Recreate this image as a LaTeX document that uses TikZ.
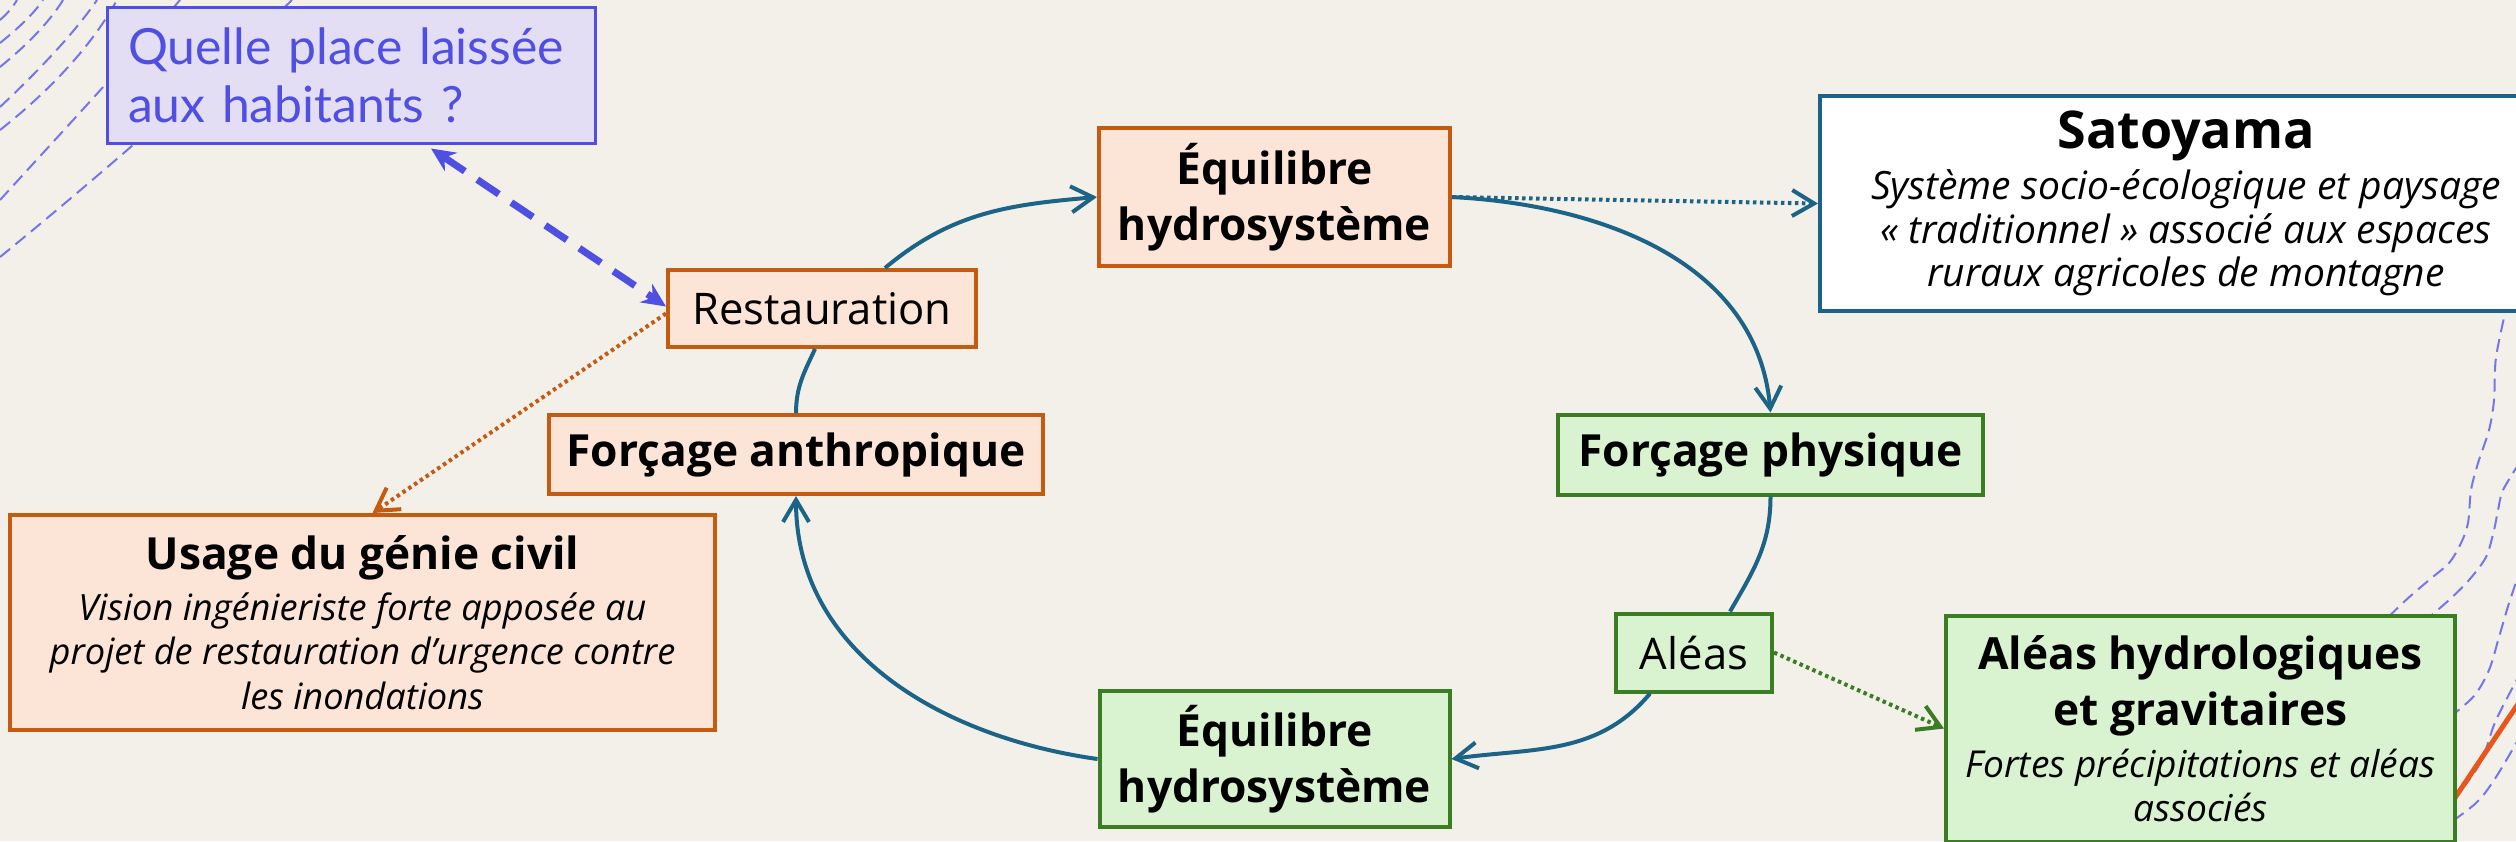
\documentclass[tikz,border=0pt]{standalone}
\usepackage{fontspec}
\setmainfont{Open Sans}
\newfontfamily\questfont{Lato}
\usetikzlibrary{arrows.meta,positioning}

\definecolor{fond}{HTML}{F3F0E9}
\definecolor{peche}{HTML}{FCE4D6}
\definecolor{brique}{HTML}{C55A11}
\definecolor{menthe}{HTML}{D9F2D0}
\definecolor{foret}{HTML}{3A7D22}
\definecolor{petrole}{HTML}{1B6387}
\definecolor{lavande}{HTML}{E3DEF4}
\definecolor{indigo}{HTML}{4F4FE3}
\definecolor{contourbleu}{HTML}{7676EA}
\definecolor{vermillon}{HTML}{E8561E}

\newcommand\titrefont{\fontsize{12.6}{15.9}\selectfont\bfseries\upshape}
\newcommand\grandtitre{\fontsize{14.8}{17}\selectfont\bfseries\upshape}

\tikzset{
  boite/.style={line width=0.4mm, inner sep=0pt, align=center},
  anthropbox/.style={boite, draw=brique, fill=peche},
  physbox/.style={boite, draw=foret, fill=menthe},
  satobox/.style={boite, draw=petrole, fill=white},
  questbox/.style={boite, draw=indigo, fill=lavande, line width=0.3mm, align=left, text=indigo,
    font=\questfont\fontsize{14.2}{16.5}\selectfont},
  titre/.style={font=\titrefont},
  libre/.style={font=\fontsize{12.4}{15}\selectfont},
  glose/.style={font=\fontsize{#1}{12.6}\selectfont\itshape},
  glose/.default=10.3,
  satoglose/.style={font=\fontsize{11.1}{12.4}\selectfont\itshape},
  boucle/.style={draw=petrole, line width=0.4mm},
  bouclearrow/.style={boucle, ->},
  lienpointe/.style={line width=0.4mm, dash pattern=on 0.35mm off 0.35mm, ->},
  lienquestion/.style={draw=indigo, line width=0.7mm, dash pattern=on 2.6mm off 1.5mm,
    {Stealth[length=2.4mm,width=2.2mm]}-{Stealth[length=2.4mm,width=2.2mm]}},
  contour/.style={draw=contourbleu, line width=0.2mm, dash pattern=on 1.3mm off 0.7mm},
}

\begin{document}
\begin{tikzpicture}[x=0.1mm, y=-0.1mm, >={Straight Barb[length=2.2mm,width=2.6mm]}]

    \useasboundingbox (0,0) rectangle (2516,841);
    \clip (0,0) rectangle (2516,841);
    \fill[fond] (0,0) rectangle (2516,841);

    % courbes de niveau
    \draw[contour] (0,20) .. controls (7,14) and (13,7) .. (17,0);
    \draw[contour] (0,43) .. controls (20,27) and (35,12) .. (43,0);
    \draw[contour] (0,67) .. controls (33,40) and (52,18) .. (63,0);
    \draw[contour] (0,107) .. controls (50,60) and (80,25) .. (97,0);
    \draw[contour] (0,130) .. controls (57,85) and (95,40) .. (117,0);
    \draw[contour] (0,200) .. controls (50,145) and (120,70) .. (180,0);
    \draw[contour] (0,257) .. controls (70,200) and (200,90) .. (292,0);
    \draw[contour] plot[smooth] coordinates {(2508,300) (2496,357) (2494,400) (2489,430) (2478,463) (2471,490) (2468,523) (2461,543) (2449,563) (2429,580) (2406,600) (2380,625)};
    \draw[contour] plot[smooth] coordinates {(2520,462) (2503,490) (2498,510) (2494,530) (2486,557) (2469,580) (2449,600) (2420,625)};
    \draw[contour] plot[smooth] coordinates {(2522,565) (2509,603) (2499,637) (2489,670) (2473,697) (2440,725)};
    \draw[contour] plot[smooth] coordinates {(2522,670) (2496,720) (2483,757) (2469,780) (2440,815)};
    \draw[contour] plot[smooth] coordinates {(2522,733) (2496,777) (2476,803) (2440,830)};
    \draw[vermillon, line width=0.5mm] (2530,686) -- (2440,820);

    \node[anthropbox, titre, minimum width=3.51cm, minimum height=1.38cm] (eqtop) at (1274.5,197) {Équilibre\\hydrosystème};
    \node[physbox, titre, minimum width=3.5cm, minimum height=1.36cm, below of=eqtop, yshift=-4.62cm] (eqbot) {Équilibre\\hydrosystème};
    \node[anthropbox, libre, minimum width=3.08cm, minimum height=0.77cm, left of=eqtop, xshift=-3.525cm, yshift=-1.115cm] (restau) {Restauration};
    \node[anthropbox, titre, minimum width=4.94cm, minimum height=0.79cm, below of=restau, xshift=-0.26cm, yshift=-0.46cm] (anthro) {Forçage anthropique};
    \node[physbox, titre, minimum width=4.25cm, minimum height=0.8cm, right of=anthro, xshift=8.745cm] (phys) {Forçage physique};
    \node[physbox, libre, minimum width=1.56cm, minimum height=0.78cm, below of=phys, xshift=-0.765cm, yshift=-0.98cm] (aleas) {Aléas};

    \node[satobox, satoglose, minimum width=7.32cm, minimum height=2.15cm, right of=eqtop, xshift=8.115cm, yshift=-0.065cm] (sato)
      {{\grandtitre Satoyama}\\[2.1pt] Système socio-écologique et paysage\\ « traditionnel » associé aux espaces\\ ruraux agricoles de montagne};
    \node[anthropbox, glose, minimum width=7.05cm, minimum height=2.15cm, left of=restau, xshift=-3.595cm, yshift=-3.14cm] (usage)
      {{\titrefont Usage du génie civil}\\[2pt] Vision ingénieriste forte apposée au\\ projet de restauration d’urgence contre\\ les inondations};
    \node[physbox, glose=10.55, minimum width=5.09cm, minimum height=2.26cm, right of=aleas, xshift=4.065cm, yshift=-0.76cm] (hydro)
      {{\titrefont Aléas hydrologiques}\\[3.3pt]{\titrefont et gravitaires}\\[2.2pt] Fortes précipitations et aléas\\ associés};
    \node[questbox, text width=4.46cm, inner xsep=0.21cm, minimum height=1.36cm, left of=restau, xshift=-3.71cm, yshift=2.335cm] (quelle)
      {Quelle place laissée\\aux habitants ?};

    % le cycle
    \draw[bouclearrow] ([xshift=0.63cm]restau.north) to[out=40,in=185] (eqtop.west);
    \draw[bouclearrow] (eqtop.east) to[out=-3,in=95] (phys.north);
    \draw[boucle] (phys.south) to[out=-90,in=60] ([xshift=0.36cm]aleas.north);
    \draw[bouclearrow] ([xshift=-0.44cm]aleas.south) to[out=-130,in=8] (eqbot.east);
    \draw[bouclearrow] (eqbot.west) to[out=172,in=-90] (anthro.south);
    \draw[boucle] (anthro.north) to[out=90,in=-115] ([xshift=-0.07cm]restau.south);

    % liens
    \draw[lienpointe, petrole] (eqtop.east) -- (sato.west);
    \draw[lienpointe, brique] ([yshift=-0.05cm]restau.west) -- ([xshift=0.1cm]usage.north);
    \draw[lienpointe, foret] (aleas.east) -- (hydro.west);
    \draw[lienquestion] ([xshift=0.8cm,yshift=-0.04cm]quelle.south) -- ([yshift=0.02cm]restau.west);

\end{tikzpicture}
\end{document}
